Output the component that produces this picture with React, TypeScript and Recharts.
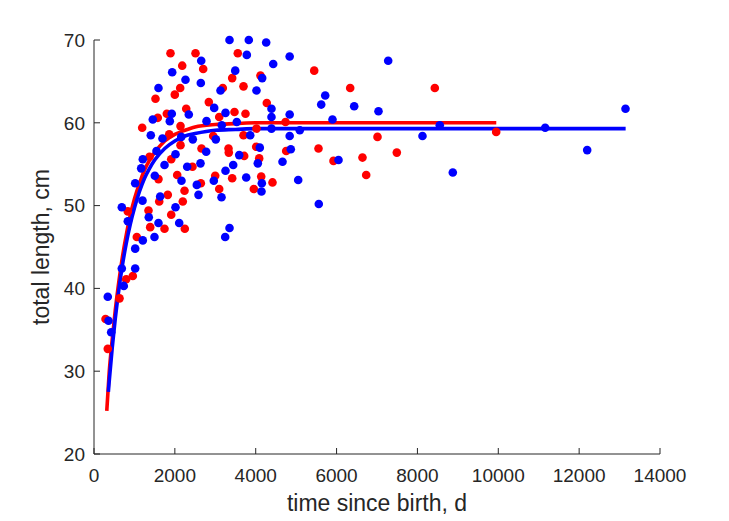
import { ComposedChart, Label, Line, Scatter, XAxis, YAxis } from "recharts";

// observed fish, group 1 (red) — days since birth / total length in cm
const redDays = [
  1892, 2511, 3557, 2182, 2701, 4118, 3418, 3698, 2132, 3186, 1999, 1521, 2840, 4274, 2281, 1801, 3475, 3747,
  1578, 3097, 2140, 1192, 4019, 1860, 2948, 3698, 2140, 2659, 3327, 3334, 4012, 4754, 1373, 1910, 3715, 4086,
  2436, 2058, 1595, 2998, 3418, 4136, 2642, 4415, 3097, 3953, 2239, 1825, 1613, 2196, 836, 1348, 1910, 1744,
  2246, 1390, 1059, 960, 796, 631, 285, 341, 5447, 6337, 8430, 4737, 7012, 5553, 7490, 5924, 6641, 6733, 9948,
];
const redLength = [
  68.4, 68.4, 68.4, 66.9, 66.5, 65.7, 65.4, 64.4, 64.2, 64.2, 63.4, 62.9, 62.5, 62.4, 61.7, 61.1, 61.3, 61.1,
  60.6, 60.7, 59.6, 59.4, 59.3, 58.6, 58.4, 58.5, 57.3, 56.9, 56.9, 56.4, 57.1, 56.6, 55.9, 55.6, 56.0, 55.7,
  54.7, 53.7, 53.2, 53.6, 53.3, 53.5, 52.7, 52.8, 52.0, 52.0, 51.8, 51.3, 50.5, 50.5, 49.3, 49.4, 48.9, 47.2,
  47.2, 47.4, 46.2, 41.5, 41.1, 38.8, 36.3, 32.7, 66.3, 64.2, 64.2, 60.1, 58.3, 56.9, 56.4, 55.4, 55.8, 53.7, 58.9,
];

// observed fish, group 2 (blue)
const blueDays = [
  3352, 3829, 4259, 2652, 3780, 4840, 4433, 1934, 3493, 4160, 2263, 2642, 1595, 3129, 4019, 2973, 4390, 1924,
  2345, 3253, 4840, 4390, 1454, 1875, 2783, 3532, 3161, 4390, 1405, 1694, 2157, 2444, 3013, 3864, 4840, 2775,
  4101, 1546, 2016, 1207, 3592, 4663, 4052, 1744, 2634, 2305, 3443, 1167, 3253, 1504, 3765, 2164, 1019, 2963,
  2543, 4151, 4143, 2585, 1637, 3154, 1200, 688, 2016, 1355, 836, 1595, 2107, 3352, 3245, 1496, 1207, 1019,
  688, 1019, 737, 341, 359, 425, 7277, 5719, 5620, 6436, 7037, 5899, 5090, 8553, 8125, 4868, 6048, 8875,
  5051, 5560, 11160, 12199, 13147,
];
const blueLength = [
  70.0, 70.0, 69.7, 67.5, 68.2, 68.0, 67.1, 66.1, 66.3, 65.4, 65.2, 64.8, 64.2, 63.9, 63.9, 61.8, 61.7, 61.1,
  61.0, 61.2, 61.0, 60.7, 60.4, 60.2, 60.2, 60.1, 59.7, 59.3, 58.5, 58.1, 58.3, 58.0, 58.0, 58.5, 58.4, 56.5,
  57.0, 56.6, 56.2, 55.6, 56.1, 55.3, 55.1, 54.9, 55.1, 54.7, 54.9, 54.5, 54.2, 53.6, 53.4, 53.0, 52.7, 53.0,
  52.5, 52.7, 51.7, 51.3, 51.1, 51.0, 50.6, 49.8, 49.8, 48.6, 48.1, 47.9, 47.9, 47.3, 46.2, 46.2, 45.8, 44.8,
  42.4, 42.4, 40.3, 39.0, 36.1, 34.7, 67.5, 63.3, 62.2, 62.0, 61.4, 60.4, 59.1, 59.7, 58.4, 56.8, 55.5, 54.0,
  53.1, 50.2, 59.4, 56.7, 61.7,
];

// growth curves
const redFitDays = [316, 375, 450, 525, 600, 700, 800, 900, 1000, 1125, 1250, 1375, 1500, 1750, 2000, 2250, 2500, 3000, 3500, 4000, 5000, 9950];
const redFitLength = [25.2, 29.8, 33.8, 37.3, 40.3, 43.7, 46.5, 48.9, 50.8, 52.7, 54.3, 55.5, 56.4, 57.8, 58.6, 59.1, 59.5, 59.8, 59.9, 60.0, 60.0, 60.0];
const blueFitDays = [355, 375, 450, 525, 600, 700, 800, 900, 1000, 1125, 1250, 1375, 1500, 1750, 2000, 2250, 2500, 3000, 3500, 4000, 5000, 13150];
const blueFitLength = [27.5, 28.7, 32.8, 36.3, 39.3, 42.7, 45.5, 47.8, 49.7, 51.7, 53.3, 54.5, 55.5, 56.9, 57.8, 58.4, 58.7, 59.1, 59.2, 59.3, 59.3, 59.3];

const xTicks = [0, 2000, 4000, 6000, 8000, 10000, 12000, 14000];
const yTicks = [20, 30, 40, 50, 60, 70];

const AXIS = "#262626";
const FONT = "'Liberation Sans', Arial, Helvetica, sans-serif";
const RED = "#ff0000";
const BLUE = "#0000ff";

const zip = (xs: number[], ys: number[]) => xs.map((x, i) => ({ x, y: ys[i] }));

const redPts = zip(redDays, redLength);
const bluePts = zip(blueDays, blueLength);
const redFit = zip(redFitDays, redFitLength);
const blueFit = zip(blueFitDays, blueFitLength);

// matlab-style ticks: short marks pointing into the axes
function XTick(props: any) {
  const { x, y, payload } = props;
  return (
    <g>
      <line x1={x} y1={y} x2={x} y2={y - 6} stroke={AXIS} strokeWidth={1} />
      <text x={x} y={y + 28} textAnchor="middle" fontSize={19} fontFamily={FONT} fill={AXIS}>
        {payload.value}
      </text>
    </g>
  );
}

function YTick(props: any) {
  const { x, y, payload } = props;
  return (
    <g>
      <line x1={x} y1={y} x2={x + 6} y2={y} stroke={AXIS} strokeWidth={1} />
      <text x={x - 9} y={y + 6.8} textAnchor="end" fontSize={19} fontFamily={FONT} fill={AXIS}>
        {payload.value}
      </text>
    </g>
  );
}

const dot = (color: string) => (p: any) => <circle cx={p.cx} cy={p.cy} r={4.3} fill={color} />;

export default function App() {
  return (
    <div style={{ position: "absolute", left: 0, top: 0, width: 729, height: 521, background: "#fff" }}>
      <ComposedChart width={729} height={521} margin={{ top: 40, right: 69, left: 0, bottom: 0 }}>
        <XAxis
          dataKey="x"
          type="number"
          domain={[0, 14000]}
          ticks={xTicks}
          interval={0}
          height={67}
          tickSize={0}
          tickMargin={0}
          tickLine={false}
          axisLine={{ stroke: AXIS, strokeWidth: 1 }}
          tick={<XTick />}
        >
          <Label
            value="time since birth, d"
            position="center"
            dy={15}
            fontSize={23}
            fontFamily={FONT}
            fill={AXIS}
          />
        </XAxis>
        <YAxis
          dataKey="y"
          type="number"
          domain={[20, 70]}
          ticks={yTicks}
          interval={0}
          width={94}
          tickSize={0}
          tickMargin={0}
          tickLine={false}
          axisLine={{ stroke: AXIS, strokeWidth: 1 }}
          tick={<YTick />}
        >
          <Label
            value="total length, cm"
            position="center"
            angle={-90}
            dx={-6}
            fontSize={23}
            fontFamily={FONT}
            fill={AXIS}
          />
        </YAxis>
        <Scatter data={redPts} dataKey="y" shape={dot(RED)} isAnimationActive={false} />
        <Scatter data={bluePts} dataKey="y" shape={dot(BLUE)} isAnimationActive={false} />
        <Line data={redFit} dataKey="y" type="monotone" stroke={RED} strokeWidth={3.6} dot={false} activeDot={false} isAnimationActive={false} />
        <Line data={blueFit} dataKey="y" type="monotone" stroke={BLUE} strokeWidth={3.6} dot={false} activeDot={false} isAnimationActive={false} />
      </ComposedChart>
    </div>
  );
}
